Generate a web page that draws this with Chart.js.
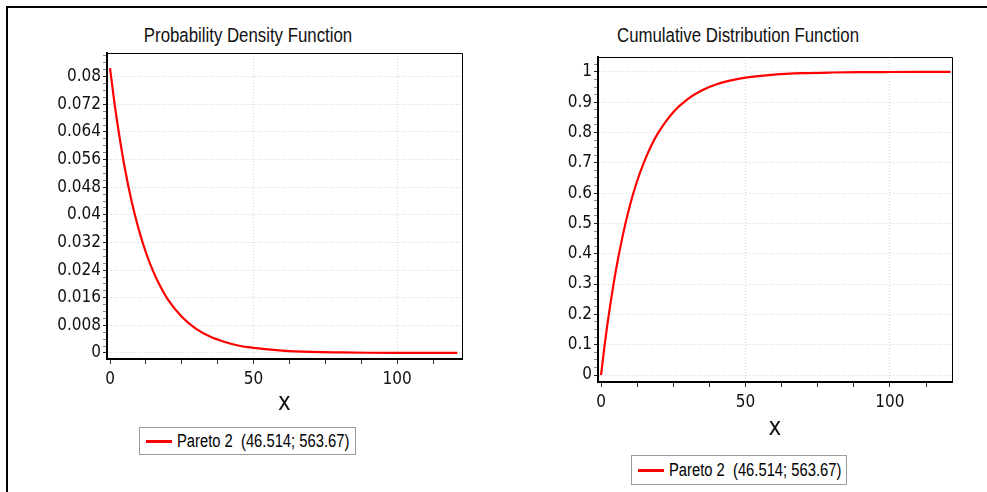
<!DOCTYPE html>
<html>
<head>
<meta charset="utf-8">
<title>Pareto 2 - PDF / CDF</title>
<script src="https://cdn.jsdelivr.net/npm/chart.js@4.4.1/dist/chart.umd.min.js"></script>
<style>
    html, body { margin: 0; padding: 0; background: #fff; }
    body { width: 987px; height: 492px; position: relative; overflow: hidden;
           font-family: "Liberation Sans", Arial, sans-serif; }
    .frame { position: absolute; left: 6px; top: 6px; width: 990px; height: 500px;
             border-top: 2px solid #000; border-left: 2px solid #000; }
    canvas { position: absolute; top: 0; }
    #pdfChart { left: 0; }
    #cdfChart { left: 490px; }
    /* narrow look: Arial-like face squeezed horizontally */
    .chart-title { position: absolute; top: 23px; width: 300px; font-size: 20.5px; line-height: 24px;
                   color: #111; text-align: center; white-space: nowrap;
                   transform: scaleX(0.82); transform-origin: 50% 50%; }
    .legend-box { position: absolute; border: 1px solid #9a9a9a; background: #fff;
                  box-sizing: border-box; color: #000; }
    .legend-box .swatch { position: absolute; left: 6px; width: 26px; height: 3px; background: #ff0000; }
    .legend-box .label { position: absolute; left: 37px; font-size: 18px; line-height: 20px; white-space: pre;
                         transform: scaleX(0.82); transform-origin: 0 50%; }
</style>
</head>
<body>
<div class="frame"></div>

<div class="chart-title" style="left:98px;">Probability Density Function</div>
<div class="chart-title" style="left:588px;">Cumulative Distribution Function</div>

<canvas id="pdfChart" width="490" height="420"></canvas>
<canvas id="cdfChart" width="497" height="450"></canvas>

<div class="legend-box" style="left:139px; top:427px; width:217px; height:28px;">
    <div class="swatch" style="top:12px;"></div><div class="label" id="pdfLegend" style="top:3px;"></div>
</div>
<div class="legend-box" style="left:631px; top:455px; width:216px; height:30px;">
    <div class="swatch" style="top:13px;"></div><div class="label" id="cdfLegend" style="top:4px;"></div>
</div>

<script>
// ---- data ----
const seriesName = 'Pareto 2  (46.514; 563.67)';
const xValues   = [0, 1.25, 2.5, 5, 7.5, 10, 12.5, 15, 17.5, 20, 25, 30, 35, 40, 45, 50, 60, 70, 80, 90, 100, 110, 121];
const pdfValues = [0.0825, 0.0743, 0.0669, 0.0542, 0.0440, 0.0358, 0.0291, 0.0237, 0.0193, 0.0157, 0.0105, 0.0070,
                   0.0047, 0.0032, 0.0021, 0.0015, 0.0007, 0.0003, 0.00015, 0.00007, 0.00004, 0.00002, 0.00001];
const cdfValues = [0, 0.098, 0.186, 0.337, 0.459, 0.559, 0.640, 0.705, 0.759, 0.802, 0.867, 0.910,
                   0.939, 0.959, 0.972, 0.981, 0.991, 0.9957, 0.9979, 0.9990, 0.9995, 0.9998, 0.9999];
const xMajorTicks = [0, 50, 100];

const FONT_FAMILY = '"DejaVu Sans Condensed", "Liberation Sans", sans-serif';

document.getElementById('pdfLegend').textContent = seriesName;
document.getElementById('cdfLegend').textContent = seriesName;

/**
 * true when value sits on a multiple of step
 */
function isMajor(value, step) {
    const r = value / step;
    return Math.abs(r - Math.round(r)) < 1e-6;
}

/**
 * Thin frame on top/right of the plot area
 */
const plotFrame = {
    id: 'plotFrame',
    afterDraw(chart) {
        const { ctx, chartArea: a } = chart;
        ctx.save();
        ctx.strokeStyle = '#000';
        ctx.lineWidth = 1;
        ctx.beginPath();
        ctx.moveTo(a.left, a.top + 0.5);
        ctx.lineTo(a.right + 0.5, a.top + 0.5);
        ctx.lineTo(a.right + 0.5, a.bottom);
        ctx.stroke();
        ctx.restore();
    }
};

/**
 * Build one panel
 */
function buildChart(canvasId, values, opts) {
    const ctx = document.getElementById(canvasId).getContext('2d');
    return new Chart(ctx, {
        type: 'line',
        data: {
            datasets: [{
                label: seriesName,
                data: xValues.map((x, i) => ({ x: x, y: values[i] })),
                borderColor: '#ff0000',
                borderWidth: 2.2,
                pointRadius: 0,
                fill: false,
                cubicInterpolationMode: 'monotone'
            }]
        },
        options: {
            responsive: false,
            animation: false,
            layout: { padding: opts.padding },
            plugins: {
                legend: { display: false },
                tooltip: { enabled: false }
            },
            scales: {
                x: {
                    type: 'linear',
                    min: opts.xMin,
                    max: opts.xMax,
                    afterFit(scale) { scale.height = opts.xAxisHeight; },
                    ticks: {
                        stepSize: 12.5,
                        includeBounds: false,
                        autoSkip: false,
                        maxRotation: 0,
                        padding: 5,
                        color: '#111',
                        font: { family: FONT_FAMILY, size: 17 },
                        callback: (v) => xMajorTicks.includes(v) ? String(v) : ''
                    },
                    grid: {
                        color: (c) => (c.tick && xMajorTicks.includes(c.tick.value) && c.tick.value !== 0) ? '#d6d6d6' : 'transparent',
                        tickLength: 5,
                        tickColor: '#333'
                    },
                    border: { color: '#000', width: 2, dash: [1, 2] },
                    title: {
                        display: true,
                        text: 'x',
                        color: '#111',
                        font: { family: FONT_FAMILY, size: 24 },
                        padding: { top: 0, bottom: opts.xTitlePad }
                    }
                },
                y: {
                    min: opts.yMin,
                    max: opts.yMax,
                    afterFit(scale) { scale.width = opts.yAxisWidth; },
                    ticks: {
                        stepSize: opts.yMinor,
                        includeBounds: false,
                        autoSkip: false,
                        padding: 2,
                        color: '#111',
                        font: { family: FONT_FAMILY, size: 17 },
                        callback: (v) => isMajor(v, opts.yMajor) ? String(Number(v.toFixed(opts.digits))) : ''
                    },
                    grid: {
                        color: (c) => (c.tick && isMajor(c.tick.value, opts.yMajor)) ? '#d6d6d6' : 'transparent',
                        tickLength: 4,
                        tickColor: (c) => (c.tick && isMajor(c.tick.value, opts.yMajor)) ? '#222' : '#888'
                    },
                    border: { color: '#000', width: 2, dash: [1, 2] }
                }
            }
        },
        plugins: [plotFrame]
    });
}

buildChart('pdfChart', pdfValues, {
    padding: { top: 53, right: 28, left: 0, bottom: 0 },
    xMin: -1.05, xMax: 122.6, xAxisHeight: 61, xTitlePad: 2,
    yMin: -0.00174, yMax: 0.08686, yMajor: 0.008, yMinor: 0.002, digits: 3,
    yAxisWidth: 107
});

buildChart('cdfChart', cdfValues, {
    padding: { top: 57, right: 35, left: 0, bottom: 0 },
    xMin: -1.04, xMax: 121.5, xAxisHeight: 68, xTitlePad: 7,
    yMin: -0.023, yMax: 1.049, yMajor: 0.1, yMinor: 0.025, digits: 1,
    yAxisWidth: 108
});
</script>
</body>
</html>
